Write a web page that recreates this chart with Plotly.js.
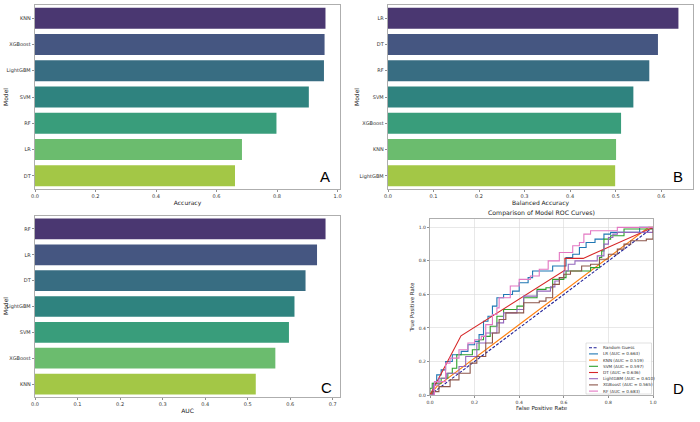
<!DOCTYPE html>
<html><head><meta charset="utf-8">
<script src="https://cdn.plot.ly/plotly-3.0.1.min.js"></script>
<style>html,body{margin:0;padding:0;background:#fff}</style>
</head><body><div id="chart" style="width:700px;height:422px"></div>
<script>
// ---- Panel A: Accuracy ----
const accModels = ['KNN','XGBoost','LightGBM','SVM','RF','LR','DT'];
const accValues = [0.960,0.957,0.955,0.905,0.798,0.684,0.661];
// ---- Panel B: Balanced Accuracy ----
const balModels = ['LR','DT','RF','SVM','XGBoost','KNN','LightGBM'];
const balValues = [0.638,0.593,0.574,0.539,0.512,0.501,0.499];
// ---- Panel C: AUC ----
const aucModels = ['RF','LR','DT','LightGBM','SVM','XGBoost','KNN'];
const aucValues = [0.683,0.663,0.636,0.610,0.597,0.565,0.519];
const palette = ['#4a3771','#455681','#386d82','#2f837f','#399d7b','#6bbc6e','#a3c746'];

// ---- Panel D: ROC curves ----
const rocNames = ['LR','KNN','SVM','DT','LightGBM','XGBoost','RF'];
const rocAUC = [0.663,0.519,0.597,0.636,0.610,0.565,0.683];
const rocColors = ['#1f77b4','#ff7f0e','#2ca02c','#d62728','#9467bd','#8c564b','#e377c2'];
const randomFpr = [0,1];
const randomTpr = [0,1];
const lrFpr = [0,0.015,0.03,0.05,0.07,0.10,0.14,0.17,0.20,0.22,0.24,0.26,0.28,0.30,0.33,0.37,0.40,0.44,0.46,0.53,0.55,0.60,0.61,0.64,0.67,0.70,0.74,0.78,0.81,0.94,1];
const lrTpr = [0,0.07,0.12,0.15,0.20,0.24,0.26,0.30,0.32,0.36,0.44,0.47,0.53,0.58,0.60,0.62,0.67,0.70,0.74,0.74,0.77,0.77,0.82,0.84,0.88,0.91,0.93,0.96,0.97,1.0,1];
const knnFpr = [0,0.03,0.98,1];
const knnTpr = [0,0.05,1.0,1];
const svmFpr = [0,0,0.01,0.03,0.05,0.08,0.10,0.12,0.19,0.22,0.24,0.27,0.30,0.33,0.39,0.42,0.48,0.52,0.55,0.60,0.61,0.69,0.72,0.76,0.77,0.78,0.81,0.87,1];
const svmTpr = [0,0.04,0.07,0.07,0.10,0.13,0.16,0.24,0.27,0.33,0.35,0.41,0.47,0.51,0.53,0.58,0.63,0.64,0.69,0.70,0.74,0.74,0.76,0.82,0.86,0.93,0.95,0.99,1];
const dtFpr = [0,0.139,0.605,0.605,0.687,1];
const dtTpr = [0,0.353,0.745,0.815,0.815,1];
const lgbFpr = [0,0.015,0.04,0.075,0.13,0.16,0.21,0.25,0.30,0.33,0.39,0.42,0.48,0.54,0.56,0.58,0.60,0.62,0.65,0.75,0.78,0.80,0.82,0.84,0.95,1];
const lgbTpr = [0,0.06,0.10,0.13,0.17,0.23,0.31,0.37,0.43,0.49,0.51,0.59,0.62,0.645,0.68,0.70,0.74,0.78,0.80,0.83,0.90,0.94,0.96,0.97,0.97,1];
const xgbFpr = [0,0.01,0.04,0.09,0.13,0.18,0.21,0.25,0.28,0.31,0.34,0.40,0.42,0.49,0.52,0.55,0.58,0.60,0.63,0.68,0.72,0.76,0.80,0.84,0.87,0.90,0.97,1];
const xgbTpr = [0,0.02,0.05,0.09,0.13,0.19,0.23,0.31,0.37,0.45,0.49,0.49,0.55,0.56,0.58,0.66,0.70,0.72,0.74,0.77,0.78,0.81,0.84,0.87,0.90,0.92,0.93,1];
const rfFpr = [0,0.02,0.07,0.09,0.13,0.17,0.20,0.23,0.25,0.28,0.30,0.31,0.36,0.40,0.45,0.49,0.53,0.58,0.64,0.67,0.69,0.72,0.84,1];
const rfTpr = [0,0.08,0.19,0.22,0.27,0.31,0.33,0.35,0.42,0.48,0.52,0.58,0.65,0.69,0.71,0.75,0.80,0.85,0.89,0.91,0.96,0.98,1.0,1];
const rocFpr = [lrFpr,knnFpr,svmFpr,dtFpr,lgbFpr,xgbFpr,rfFpr];
const rocTpr = [lrTpr,knnTpr,svmTpr,dtTpr,lgbTpr,xgbTpr,rfTpr];
const rocShape = ['hv','linear','hv','linear','hv','hv','hv'];

const W = 700, H = 422;
const px = v => v / W;
const py = v => 1 - v / H;
const FONT = 'DejaVu Sans, sans-serif';
const DASH = '3px,1.6px';

const data = [];
function barTrace(models, values, xa, ya) {
  return {type:'bar', orientation:'h', y:models, x:values, xaxis:xa, yaxis:ya,
    marker:{color:palette, line:{width:0}}, showlegend:false, hoverinfo:'x+y'};
}
data.push(barTrace(accModels, accValues, 'x', 'y'));
data.push(barTrace(balModels, balValues, 'x2', 'y2'));
data.push(barTrace(aucModels, aucValues, 'x3', 'y3'));
data.push({type:'scatter', mode:'lines', x:randomFpr, y:randomTpr, xaxis:'x4', yaxis:'y4',
  line:{color:'#1f1f96', dash:DASH, width:1.1}, showlegend:false});
for (let i = 0; i < rocNames.length; i++) {
  data.push({type:'scatter', mode:'lines', x:rocFpr[i], y:rocTpr[i], xaxis:'x4', yaxis:'y4',
    line:{color:rocColors[i], width:1.1, shape:rocShape[i]}, showlegend:false,
    name: rocNames[i]});
}

const axBase = {showline:true, mirror:true, linecolor:'#9a9a9a', linewidth:0.8,
  ticks:'outside', ticklen:2.5, tickwidth:0.6, tickcolor:'#444',
  tickfont:{family:FONT, size:5, color:'#333'}, showgrid:false, zeroline:false};
function xax(domain, range, dtick, title, anchor) {
  return Object.assign({}, axBase, {domain:domain, range:range, dtick:dtick, tick0:0,
    tickformat:'.1f', anchor:anchor,
    title:{text:title, font:{family:FONT, size:6, color:'#222'}, standoff:2}});
}
function yax(domain, anchor) {
  return Object.assign({}, axBase, {domain:domain, anchor:anchor, type:'category',
    autorange:'reversed', ticklen:2.5});
}

const layout = {
  width:W, height:H, margin:{l:0,r:0,t:0,b:0},
  paper_bgcolor:'#fff', plot_bgcolor:'#fff', bargap:0.2, showlegend:false,
  font:{family:FONT},
  xaxis: xax([px(35),px(340)], [0,1.008], 0.2, 'Accuracy', 'y'),
  yaxis: yax([py(189),py(5)], 'x'),
  xaxis2: xax([px(388),px(693)], [0,0.670], 0.1, 'Balanced Accuracy', 'y2'),
  yaxis2: yax([py(189),py(5)], 'x2'),
  xaxis3: xax([px(35),px(340)], [0,0.717], 0.1, 'AUC', 'y3'),
  yaxis3: yax([py(397),py(216)], 'x3'),
  xaxis4: Object.assign({}, axBase, {domain:[px(430),px(653)], range:[0,1], dtick:0.2, tick0:0,
    tickformat:'.1f', anchor:'y4', showgrid:true, gridcolor:'#d9d9d9', gridwidth:0.6,
    tickfont:{family:FONT, size:4.5, color:'#333'},
    title:{text:'False Positive Rate', font:{family:FONT, size:5.5, color:'#222'}, standoff:2}}),
  yaxis4: Object.assign({}, axBase, {domain:[py(395),py(219)], range:[0,1.05], dtick:0.2, tick0:0,
    tickformat:'.1f', anchor:'x4', showgrid:true, gridcolor:'#d9d9d9', gridwidth:0.6,
    tickfont:{family:FONT, size:4.5, color:'#333'},
    title:{text:'True Positive Rate', font:{family:FONT, size:5.5, color:'#222'}, standoff:3}}),
  shapes:[], annotations:[]
};

// y-axis titles "Model"
[[5,97],[356,97],[5,306]].forEach(p => layout.annotations.push({xref:'paper', yref:'paper',
  x:px(p[0]), y:py(p[1]), text:'Model', textangle:-90, showarrow:false,
  font:{family:FONT, size:6, color:'#222'}, xanchor:'center', yanchor:'middle'}));

// Title of panel D
layout.annotations.push({xref:'paper', yref:'paper', x:px(541), y:py(213), text:'Comparison of Model ROC Curves)',
  showarrow:false, font:{family:FONT, size:6.2, color:'#222'}, xanchor:'center', yanchor:'middle'});
// panel letters
const letters = [['A',325,177],['B',678,177],['C',326,387],['D',678,388]];
letters.forEach(l => layout.annotations.push({xref:'paper', yref:'paper', x:px(l[1]), y:py(l[2]), text:l[0],
  showarrow:false, font:{family:'Liberation Sans, Arial, sans-serif', size:15, color:'#000'},
  xanchor:'center', yanchor:'middle'}));

// custom compact legend for ROC panel
layout.shapes.push({type:'rect', xref:'paper', yref:'paper', x0:px(586), x1:px(651.5), y0:py(394), y1:py(343),
  line:{color:'#cccccc', width:0.6}, fillcolor:'rgba(255,255,255,0.85)', layer:'above'});
const legLabels = ['Random Guess'].concat(rocNames.map((n,i) => n + ' (AUC = ' + rocAUC[i].toFixed(3) + ')'));
const legColors = ['#1f1f96'].concat(rocColors);
legLabels.forEach((lab, i) => {
  const yy = 347.7 + i * 6.2;
  layout.shapes.push({type:'line', xref:'paper', yref:'paper', x0:px(589), x1:px(598), y0:py(yy), y1:py(yy),
    line:{color:legColors[i], width:1.1, dash: i === 0 ? DASH : 'solid'}, layer:'above'});
  layout.annotations.push({xref:'paper', yref:'paper', x:px(600.5), y:py(yy), text:lab, showarrow:false,
    xanchor:'left', yanchor:'middle', font:{family:FONT, size:4.2, color:'#333'}});
});

Plotly.newPlot('chart', data, layout, {staticPlot:true, displayModeBar:false});
</script></body></html>
